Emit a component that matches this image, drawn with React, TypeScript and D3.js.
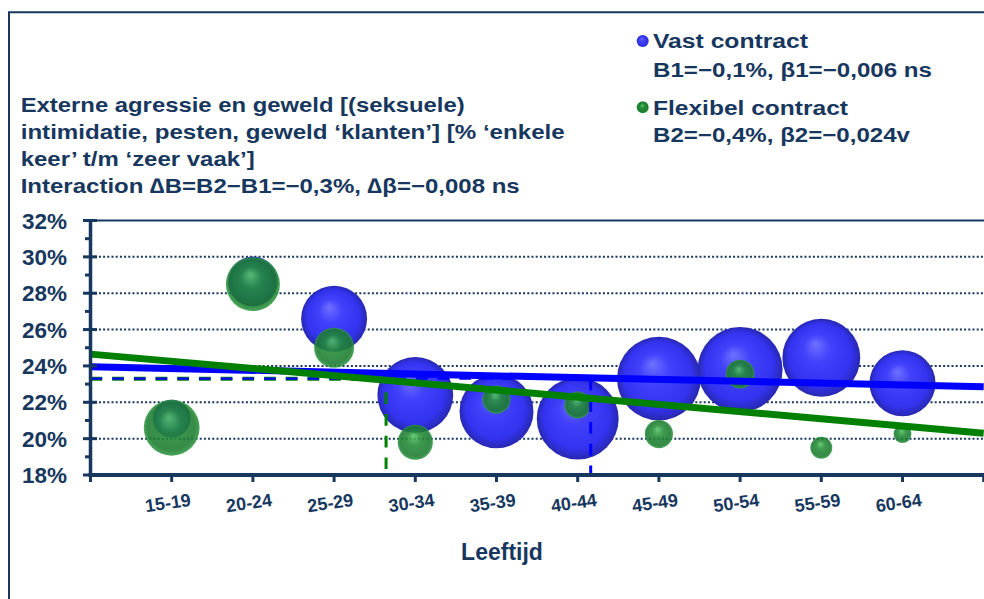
import React from "react";
import * as d3 from "d3";

const categories = ["15-19", "20-24", "25-29", "30-34", "35-39", "40-44", "45-49", "50-54", "55-59", "60-64"];
const vastValues = [21.1, 28.65, 26.6, 22.4, 21.5, 21.1, 23.3, 23.8, 24.45, 23.05];
const vastSizes = [36, 62, 109, 144, 137, 168, 176, 181, 152, 109];
const flexValues = [20.6, 28.5, 25.0, 19.8, 22.15, 21.85, 20.25, 23.55, 19.5, 20.25];
const flexSizes = [78, 73, 40, 31, 20, 18, 20, 21, 12, 8];
const trendX = [0, 11];
const vastTrend = [23.96, 22.85];
const flexTrend = [24.65, 20.3];
const meanLevel = 23.3;
const vastMeanAge = 6.16;
const flexMeanAge = 3.64;
const yTicks = [18, 20, 22, 24, 26, 28, 30, 32];
const yMinorTicks = [19, 21, 23, 25, 27, 29, 31];
const titleLines = [
  "Externe agressie en geweld [(seksuele)",
  "intimidatie, pesten, geweld \u2018klanten\u2019] [% \u2018enkele",
  "keer\u2019 t/m  \u2018zeer vaak\u2019]",
  "Interaction \u2206B=B2\u2212B1=\u22120,3%, \u2206\u03b2=\u22120,008 ns",
];
const titleWidths = [444, 544, 234, 499];
const legendVast = ["Vast contract", "B1=\u22120,1%,  \u03b21=\u22120,006 ns"];
const legendFlex = ["Flexibel contract", "B2=\u22120,4%,  \u03b22=\u22120,024v"];
const legendWidths = [155, 279, 195, 257];
const xTitle = "Leeftijd";

const NAVY = "#17375e";
const FONT = "'Liberation Sans', Arial, sans-serif";

export default function App() {
  const W = 984, H = 599;
  const x = d3.scaleLinear().domain([0, 11]).range([90.5, 983.7]);
  const y = d3.scaleLinear().domain([18, 32]).range([475, 220.5]);
  const r = d3.scaleSqrt().domain([0, 181]).range([0, 42.5]);
  const line = d3.line<[number, number]>().x((d) => x(d[0])).y((d) => y(d[1]));
  const xIdx = categories.map((_, i) => i + 1);

  const vastPts = categories.map((c, i) => ({ c, xv: xIdx[i], v: vastValues[i], s: vastSizes[i] }));
  const flexPts = categories.map((c, i) => ({ c, xv: xIdx[i], v: flexValues[i], s: flexSizes[i] }));

  return (
    <svg width={W} height={H} style={{ position: "absolute", left: 0, top: 0, background: "#fff" }} fontFamily={FONT}>
      <defs>
        <radialGradient id="gBlue" cx="50%" cy="50%" r="50%" fx="42%" fy="32%">
          <stop offset="0%" stopColor="#7070ff" />
          <stop offset="35%" stopColor="#4242fc" />
          <stop offset="80%" stopColor="#3333f0" />
          <stop offset="100%" stopColor="#2828b0" />
        </radialGradient>
        <radialGradient id="gGreen" cx="50%" cy="50%" r="50%" fx="45%" fy="32%">
          <stop offset="0%" stopColor="#55c463" />
          <stop offset="40%" stopColor="#228c36" />
          <stop offset="85%" stopColor="#1b7a2e" />
          <stop offset="100%" stopColor="#2f9a42" />
        </radialGradient>
      </defs>
      <rect x={0} y={0} width={W} height={H} fill="#fff" />
      <path d={`M9,${H + 5} V12.3 H${W + 5}`} fill="none" stroke={NAVY} strokeWidth={2} />

      {titleLines.map((t, i) => (
        <text key={t} x={20.7} y={112 + i * 27} fontSize={21} fontWeight="bold" fill={NAVY}
          textLength={titleWidths[i]} lengthAdjust="spacingAndGlyphs">{t}</text>
      ))}

      <circle cx={642.7} cy={41} r={6} fill="url(#gBlue)" />
      <circle cx={642.7} cy={107.3} r={6} fill="url(#gGreen)" />
      {legendVast.map((t, i) => (
        <text key={t} x={653} y={48.3 + i * 28.4} fontSize={20} fontWeight="bold" fill={NAVY}
          textLength={legendWidths[i]} lengthAdjust="spacingAndGlyphs">{t}</text>
      ))}
      {legendFlex.map((t, i) => (
        <text key={t} x={653} y={115 + i * 26.7} fontSize={20} fontWeight="bold" fill={NAVY}
          textLength={legendWidths[i + 2]} lengthAdjust="spacingAndGlyphs">{t}</text>
      ))}

      {yTicks.filter((t) => t > 18 && t < 32).map((t) => (
        <line key={t} x1={x(0)} x2={W} y1={y(t)} y2={y(t)} stroke={NAVY} strokeWidth={2} strokeDasharray="2 2.2" />
      ))}
      <line x1={x(0)} x2={W} y1={y(32)} y2={y(32)} stroke={NAVY} strokeWidth={2} />

      {vastPts.map((p) => (
        <circle key={"b" + p.c} cx={x(p.xv)} cy={y(p.v)} r={r(p.s)} fill="url(#gBlue)" />
      ))}
      {flexPts.map((p) => (
        <circle key={"g" + p.c} cx={x(p.xv)} cy={y(p.v)} r={r(p.s)} fill="url(#gGreen)" fillOpacity={0.88} />
      ))}

      <line x1={x(0)} x2={x(flexMeanAge)} y1={y(meanLevel)} y2={y(meanLevel)} stroke="#008000" strokeWidth={4} strokeDasharray="11.7 10" />
      <line x1={x(0)} x2={x(vastMeanAge)} y1={y(meanLevel)} y2={y(meanLevel)} stroke="#0000ff" strokeWidth={2.4} strokeDasharray="11.7 10" />
      <line x1={x(flexMeanAge)} x2={x(flexMeanAge)} y1={y(22.55)} y2={y(18)} stroke="#008000" strokeWidth={3} strokeDasharray="11.7 10" />
      <line x1={x(vastMeanAge)} x2={x(vastMeanAge)} y1={y(meanLevel)} y2={y(18)} stroke="#0000ff" strokeWidth={3} strokeDasharray="11.7 10" />

      <path d={line(trendX.map((t, i) => [t, vastTrend[i]]) as any) || ""} fill="none" stroke="#0000ff" strokeWidth={7} />
      <path d={line(trendX.map((t, i) => [t, flexTrend[i]]) as any) || ""} fill="none" stroke="#008000" strokeWidth={7} />

      <line x1={x(0)} x2={x(0)} y1={y(32) - 1} y2={y(18) + 2} stroke={NAVY} strokeWidth={3.5} />
      {yTicks.map((t) => (
        <g key={"yt" + t}>
          <line x1={83} x2={97} y1={y(t)} y2={y(t)} stroke={NAVY} strokeWidth={3} />
          <text x={67} y={y(t)} dy="0.36em" textAnchor="end" fontSize={22.5} fontWeight="bold" fill={NAVY}>{t}%</text>
        </g>
      ))}
      {yMinorTicks.map((t) => (
        <line key={"ym" + t} x1={85} x2={90} y1={y(t)} y2={y(t)} stroke={NAVY} strokeWidth={3} />
      ))}

      <line x1={x(0) - 2} x2={W} y1={y(18)} y2={y(18)} stroke={NAVY} strokeWidth={4} />
      {d3.range(0, 12).map((i) => (
        <line key={"xt" + i} x1={x(i)} x2={x(i)} y1={y(18)} y2={y(18) + 7} stroke={NAVY} strokeWidth={3} />
      ))}
      {categories.map((c, i) => (
        <text key={"xl" + c} transform={`translate(${x(xIdx[i]) - 3},${509}) rotate(-8)`} textAnchor="middle"
          fontSize={18} fontWeight="bold" fill={NAVY}>{c}</text>
      ))}
      <text x={502} y={560} textAnchor="middle" fontSize={23} fontWeight="bold" fill={NAVY}>{xTitle}</text>
    </svg>
  );
}
